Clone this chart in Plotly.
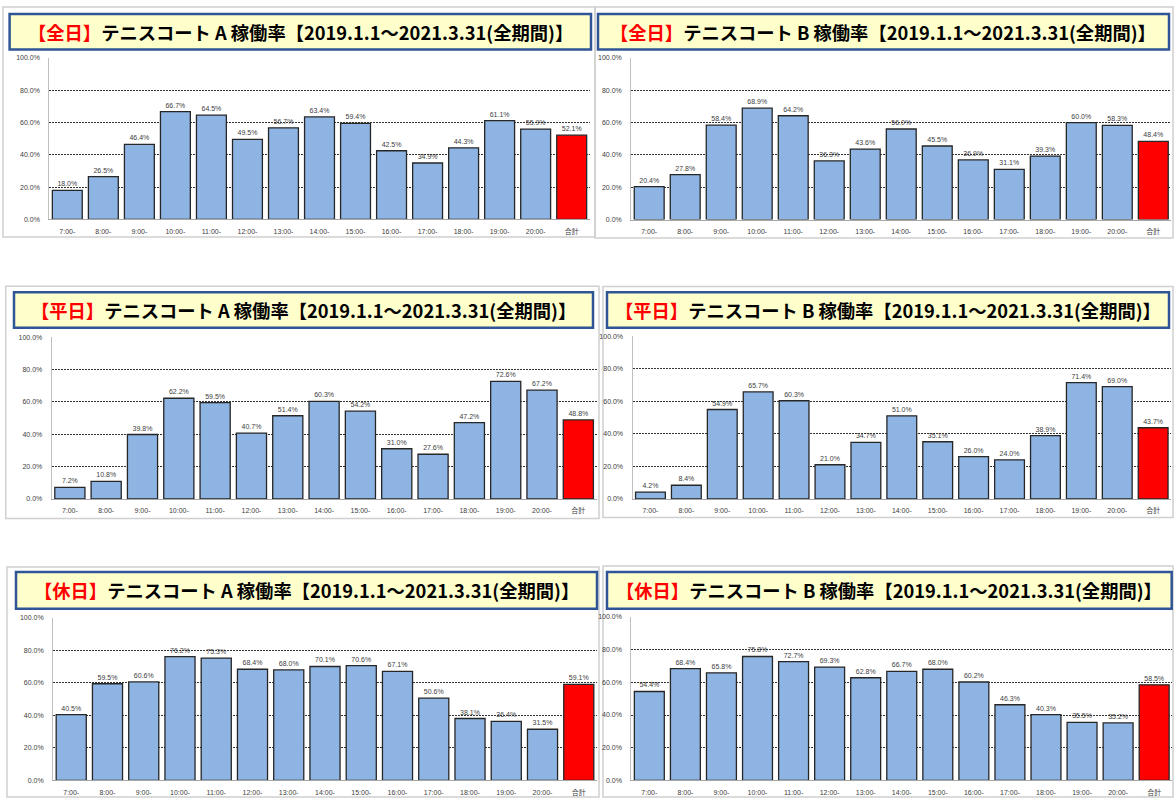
import plotly.graph_objects as go

W, H = 1174, 801

categories = ["7:00-", "8:00-", "9:00-", "10:00-", "11:00-", "12:00-", "13:00-",
              "14:00-", "15:00-", "16:00-", "17:00-", "18:00-", "19:00-", "20:00-", "合計"]

zenjitsu_a = [18.0, 26.5, 46.4, 66.7, 64.5, 49.5, 56.7, 63.4, 59.4, 42.5, 34.9, 44.3, 61.1, 55.9, 52.1]
zenjitsu_b = [20.4, 27.8, 58.4, 68.9, 64.2, 36.3, 43.6, 56.0, 45.5, 36.9, 31.1, 39.3, 60.0, 58.3, 48.4]
heijitsu_a = [7.2, 10.8, 39.8, 62.2, 59.5, 40.7, 51.4, 60.3, 54.2, 31.0, 27.6, 47.2, 72.6, 67.2, 48.8]
heijitsu_b = [4.2, 8.4, 54.9, 65.7, 60.3, 21.0, 34.7, 51.0, 35.1, 26.0, 24.0, 38.9, 71.4, 69.0, 43.7]
kyujitsu_a = [40.5, 59.5, 60.6, 76.2, 75.3, 68.4, 68.0, 70.1, 70.6, 67.1, 50.6, 38.1, 36.4, 31.5, 59.1]
kyujitsu_b = [54.4, 68.4, 65.8, 75.8, 72.7, 69.3, 62.8, 66.7, 68.0, 60.2, 46.3, 40.3, 35.5, 35.2, 58.5]

day_types = ["全日", "全日", "平日", "平日", "休日", "休日"]
courts = ["A", "B", "A", "B", "A", "B"]
series = [zenjitsu_a, zenjitsu_b, heijitsu_a, heijitsu_b, kyujitsu_a, kyujitsu_b]
period = "【2019.1.1～2021.3.31(全期間)】"

y_tickvals = [0, 20, 40, 60, 80, 100]
y_ticktext = ["0.0%", "20.0%", "40.0%", "60.0%", "80.0%", "100.0%"]

# geometry (pixels): plot x0, x1, y(100%), y(0%); title box; outer frame
geom = [
    dict(px=(49.3, 589.7), py=(54.3, 217.3), tb=(9.6, 591, 10, 46), fr=(3, 595, 3, 235)),
    dict(px=(631.2, 1171.3), py=(54.3, 217.5), tb=(598, 1169, 10, 46), fr=(595, 1173, 3, 236)),
    dict(px=(51.7, 596.5), py=(336, 499.3), tb=(14, 593, 290.7, 326.7), fr=(5.7, 599, 284.7, 519)),
    dict(px=(632.5, 1171.1), py=(335, 499.3), tb=(607, 1169, 290.7, 326.7), fr=(603, 1173, 285, 518)),
    dict(px=(53.1, 596.9), py=(619.3, 783.3), tb=(16, 597, 573, 610), fr=(7, 599, 568, 800)),
    dict(px=(631.3, 1172.2), py=(618.3, 783.3), tb=(607, 1171.7, 573, 610), fr=(603, 1173, 567, 800)),
]

BLUE = "#8DB4E2"
RED = "#FF0000"
bar_colors = [BLUE] * (len(categories) - 1) + [RED]

tickfont = dict(family="Liberation Sans, Noto Sans CJK JP", size=7, color="#404040")

fig = go.Figure()
layout = dict(width=W, height=H, margin=dict(l=0, r=0, t=0, b=0),
              paper_bgcolor="white", plot_bgcolor="white", showlegend=False,
              shapes=[], annotations=[])

for i, (vals, g) in enumerate(zip(series, geom)):
    ax = "" if i == 0 else str(i + 1)
    fig.add_trace(go.Bar(
        x=categories, y=vals, xaxis="x" + ax, yaxis="y" + ax,
        marker=dict(color=bar_colors, line=dict(color="#262626", width=1.3)),
        width=0.83,
        text=[f"{v:.1f}%" for v in vals], textposition="outside",
        textfont=dict(family="Liberation Sans", size=7, color="#404040"),
        cliponaxis=False, hoverinfo="skip",
    ))
    x0, x1 = g["px"]
    ytop, ybot = g["py"]
    layout["xaxis" + ax] = dict(
        domain=[x0 / W, x1 / W], anchor="y" + ax, type="category",
        range=[-0.5, 14.5], showline=True, linecolor="#A6A6A6", linewidth=1,
        showgrid=False, ticks="", tickfont=tickfont, ticklabelstandoff=5,
        fixedrange=True,
    )
    layout["yaxis" + ax] = dict(
        domain=[1 - ybot / H, 1 - ytop / H], anchor="x" + ax,
        range=[0, 100], tickvals=y_tickvals, ticktext=y_ticktext,
        showgrid=True, gridcolor="#333333", griddash="2px,1px", gridwidth=1.2,
        showline=True, linecolor="#BFBFBF", linewidth=1, zeroline=False,
        ticks="", tickfont=tickfont, ticklabelstandoff=7, fixedrange=True,
    )
    fx0, fx1, fy0, fy1 = g["fr"]
    layout["shapes"].append(dict(
        type="rect", xref="paper", yref="paper", layer="below",
        x0=fx0 / W, x1=fx1 / W, y0=1 - fy1 / H, y1=1 - fy0 / H,
        line=dict(color="#D0D0D0", width=1.5), fillcolor="rgba(0,0,0,0)",
    ))
    tx0, tx1, ty0, ty1 = g["tb"]
    layout["shapes"].append(dict(
        type="rect", xref="paper", yref="paper", layer="above",
        x0=tx0 / W, x1=tx1 / W, y0=1 - ty1 / H, y1=1 - ty0 / H,
        line=dict(color="#2F5597", width=2.5), fillcolor="#FFFFCC",
    ))
    title = (f"<b><span style='color:#FF0000'>【{day_types[i]}】</span>"
             f"テニスコート {courts[i]} 稼働率{period}</b>")
    layout["annotations"].append(dict(
        text=title, xref="paper", yref="paper", showarrow=False,
        x=(tx0 + tx1) / 2 / W, y=1 - (ty0 + ty1) / 2 / H,
        xanchor="center", yanchor="middle",
        font=dict(family="Noto Sans CJK JP", size=18.3, color="#000000"),
    ))

fig.update_layout(**layout)
fig.write_html("out.html")
